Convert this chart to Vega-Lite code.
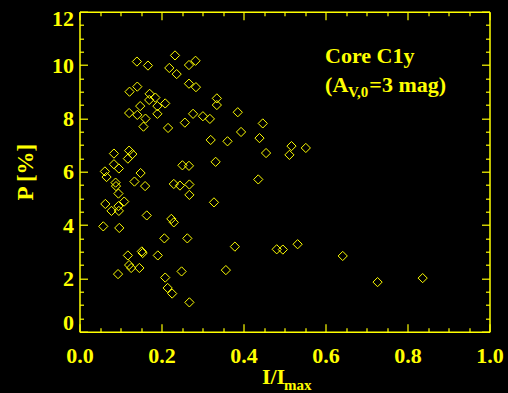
{
  "$schema": "https://vega.github.io/schema/vega-lite/v6.json",
  "width": 410,
  "height": 320,
  "autosize": {"type": "none"},
  "padding": {"left": 79.5, "top": 11.7, "right": 18.5, "bottom": 61.3},
  "background": "#000000",
  "config": {
    "view": {"stroke": null},
    "axis": {
      "grid": false,
      "domainColor": "#ffff00",
      "tickColor": "#ffff00",
      "labelColor": "#ffff00",
      "titleColor": "#ffff00",
      "labelFont": "Liberation Serif",
      "titleFont": "Liberation Serif",
      "labelFontWeight": "bold",
      "titleFontWeight": "bold",
      "labelFontSize": 22,
      "titleFontSize": 23,
      "domainWidth": 1.5,
      "tickWidth": 1.2,
      "labelOverlap": false
    }
  },
  "layer": [
    {
      "data": {
        "values": [
          {"x": 0.233, "p": 10.36}, {"x": 0.140, "p": 10.13}, {"x": 0.167, "p": 9.98}, {"x": 0.219, "p": 9.89},
          {"x": 0.237, "p": 9.66}, {"x": 0.267, "p": 10.00}, {"x": 0.283, "p": 10.16}, {"x": 0.267, "p": 9.30},
          {"x": 0.284, "p": 9.17}, {"x": 0.122, "p": 9.00}, {"x": 0.141, "p": 9.19}, {"x": 0.171, "p": 8.92},
          {"x": 0.185, "p": 8.78}, {"x": 0.170, "p": 8.69}, {"x": 0.209, "p": 8.56}, {"x": 0.190, "p": 8.46},
          {"x": 0.148, "p": 8.46}, {"x": 0.121, "p": 8.20}, {"x": 0.141, "p": 8.13}, {"x": 0.190, "p": 8.17},
          {"x": 0.161, "p": 7.99}, {"x": 0.156, "p": 7.69}, {"x": 0.216, "p": 7.64}, {"x": 0.257, "p": 7.84},
          {"x": 0.277, "p": 8.17}, {"x": 0.301, "p": 8.08}, {"x": 0.318, "p": 7.98}, {"x": 0.335, "p": 8.75},
          {"x": 0.335, "p": 8.50}, {"x": 0.386, "p": 8.23}, {"x": 0.447, "p": 7.81}, {"x": 0.394, "p": 7.49},
          {"x": 0.320, "p": 7.19}, {"x": 0.361, "p": 7.14}, {"x": 0.439, "p": 7.26}, {"x": 0.455, "p": 6.70},
          {"x": 0.332, "p": 6.37}, {"x": 0.251, "p": 6.24}, {"x": 0.267, "p": 6.22}, {"x": 0.517, "p": 6.96},
          {"x": 0.512, "p": 6.63}, {"x": 0.552, "p": 6.89}, {"x": 0.084, "p": 6.68}, {"x": 0.121, "p": 6.79},
          {"x": 0.129, "p": 6.66}, {"x": 0.118, "p": 6.49}, {"x": 0.084, "p": 6.28}, {"x": 0.096, "p": 6.12},
          {"x": 0.062, "p": 6.01}, {"x": 0.066, "p": 5.80}, {"x": 0.149, "p": 5.95}, {"x": 0.436, "p": 5.71},
          {"x": 0.088, "p": 5.59}, {"x": 0.089, "p": 5.46}, {"x": 0.095, "p": 5.18}, {"x": 0.109, "p": 4.88},
          {"x": 0.134, "p": 5.63}, {"x": 0.160, "p": 5.46}, {"x": 0.063, "p": 4.79}, {"x": 0.078, "p": 4.53},
          {"x": 0.095, "p": 4.71}, {"x": 0.096, "p": 4.53}, {"x": 0.164, "p": 4.36}, {"x": 0.058, "p": 3.95},
          {"x": 0.097, "p": 3.89}, {"x": 0.224, "p": 4.23}, {"x": 0.230, "p": 4.10}, {"x": 0.207, "p": 3.50},
          {"x": 0.263, "p": 3.50}, {"x": 0.379, "p": 3.19}, {"x": 0.481, "p": 3.09}, {"x": 0.496, "p": 3.08},
          {"x": 0.532, "p": 3.28}, {"x": 0.642, "p": 2.84}, {"x": 0.152, "p": 3.01}, {"x": 0.154, "p": 2.95},
          {"x": 0.118, "p": 2.86}, {"x": 0.191, "p": 2.86}, {"x": 0.121, "p": 2.50}, {"x": 0.126, "p": 2.39},
          {"x": 0.146, "p": 2.39}, {"x": 0.094, "p": 2.16}, {"x": 0.209, "p": 2.03}, {"x": 0.249, "p": 2.26},
          {"x": 0.357, "p": 2.31}, {"x": 0.215, "p": 1.64}, {"x": 0.226, "p": 1.43}, {"x": 0.268, "p": 1.10},
          {"x": 0.727, "p": 1.86}, {"x": 0.837, "p": 2.01}, {"x": 0.230, "p": 5.54}, {"x": 0.245, "p": 5.48},
          {"x": 0.268, "p": 5.52}, {"x": 0.268, "p": 5.13}, {"x": 0.328, "p": 4.85}
        ]
      },
      "mark": {"type": "point", "shape": "diamond", "filled": false, "color": "#ffff00", "size": 85, "strokeWidth": 1, "opacity": 1},
      "encoding": {
        "x": {
          "field": "x", "type": "quantitative",
          "scale": {"domain": [0, 1], "nice": false, "zero": false},
          "axis": {
            "orient": "bottom", "title": null,
            "values": [0, 0.05, 0.1, 0.15, 0.2, 0.25, 0.3, 0.35, 0.4, 0.45, 0.5, 0.55, 0.6, 0.65, 0.7, 0.75, 0.8, 0.85, 0.9, 0.95, 1],
            "labelExpr": "abs(datum.value*5 - round(datum.value*5)) < 0.001 ? format(datum.value, '.1f') : ''",
            "tickSize": {"expr": "abs(datum.value*5 - round(datum.value*5)) < 0.001 ? -8 : -4"},
            "labelPadding": 22,
            "labelFlush": false
          }
        },
        "y": {
          "field": "p", "type": "quantitative",
          "scale": {"domain": [0, 12], "nice": false},
          "axis": {
            "orient": "left", "title": "P [%]", "titlePadding": 14,
            "values": [0, 0.5, 1, 1.5, 2, 2.5, 3, 3.5, 4, 4.5, 5, 5.5, 6, 6.5, 7, 7.5, 8, 8.5, 9, 9.5, 10, 10.5, 11, 11.5, 12],
            "labelExpr": "datum.value % 2 == 0 ? format(datum.value, 'd') : ''",
            "tickSize": {"expr": "datum.value % 2 == 0 ? -8 : -4"},
            "labelPadding": 14,
            "labelFlush": true,
            "labelFlushOffset": 3
          }
        }
      }
    },
    {
      "data": {"values": [{"label": "Core C1y"}]},
      "mark": {"type": "text", "align": "left", "baseline": "alphabetic", "font": "Liberation Serif", "fontWeight": "bold", "fontSize": 22, "color": "#ffff00"},
      "encoding": {
        "x": {
          "datum": 0.599, "type": "quantitative",
          "axis": {
            "orient": "top", "title": null, "labels": false,
            "values": [0, 0.05, 0.1, 0.15, 0.2, 0.25, 0.3, 0.35, 0.4, 0.45, 0.5, 0.55, 0.6, 0.65, 0.7, 0.75, 0.8, 0.85, 0.9, 0.95, 1],
            "tickSize": {"expr": "abs(datum.value*5 - round(datum.value*5)) < 0.001 ? -8 : -4"}
          }
        },
        "y": {
          "datum": 10.08, "type": "quantitative",
          "axis": {
            "orient": "right", "title": null, "labels": false,
            "values": [0, 0.5, 1, 1.5, 2, 2.5, 3, 3.5, 4, 4.5, 5, 5.5, 6, 6.5, 7, 7.5, 8, 8.5, 9, 9.5, 10, 10.5, 11, 11.5, 12],
            "tickSize": {"expr": "datum.value % 2 == 0 ? -8 : -4"}
          }
        },
        "text": {"field": "label"}
      }
    },
    {
      "data": {"values": [{"label": "(A"}]},
      "mark": {"type": "text", "align": "left", "baseline": "alphabetic", "font": "Liberation Serif", "fontWeight": "bold", "fontSize": 22, "color": "#ffff00"},
      "encoding": {
        "x": {"datum": 0.599, "type": "quantitative", "axis": null},
        "y": {"datum": 8.99, "type": "quantitative", "axis": null},
        "text": {"field": "label"}
      }
    },
    {
      "data": {"values": [{"label": "V,0"}]},
      "mark": {"type": "text", "align": "left", "baseline": "alphabetic", "font": "Liberation Serif", "fontWeight": "bold", "fontSize": 15, "color": "#ffff00"},
      "encoding": {
        "x": {"datum": 0.655, "type": "quantitative", "axis": null},
        "y": {"datum": 8.80, "type": "quantitative", "axis": null},
        "text": {"field": "label"}
      }
    },
    {
      "data": {"values": [{"label": "=3 mag)"}]},
      "mark": {"type": "text", "align": "left", "baseline": "alphabetic", "font": "Liberation Serif", "fontWeight": "bold", "fontSize": 22, "color": "#ffff00"},
      "encoding": {
        "x": {"datum": 0.707, "type": "quantitative", "axis": null},
        "y": {"datum": 8.99, "type": "quantitative", "axis": null},
        "text": {"field": "label"}
      }
    },
    {
      "data": {"values": [{"label": "I/I"}]},
      "mark": {"type": "text", "align": "left", "baseline": "alphabetic", "font": "Liberation Serif", "fontWeight": "bold", "fontSize": 22, "color": "#ffff00", "clip": false},
      "encoding": {
        "x": {"datum": 0.445, "type": "quantitative", "axis": null},
        "y": {"datum": -1.97, "type": "quantitative", "axis": null},
        "text": {"field": "label"}
      }
    },
    {
      "data": {"values": [{"label": "max"}]},
      "mark": {"type": "text", "align": "left", "baseline": "alphabetic", "font": "Liberation Serif", "fontWeight": "bold", "fontSize": 15, "color": "#ffff00", "clip": false},
      "encoding": {
        "x": {"datum": 0.499, "type": "quantitative", "axis": null},
        "y": {"datum": -2.19, "type": "quantitative", "axis": null},
        "text": {"field": "label"}
      }
    }
  ],
  "resolve": {"axis": {"x": "independent", "y": "independent"}}
}
